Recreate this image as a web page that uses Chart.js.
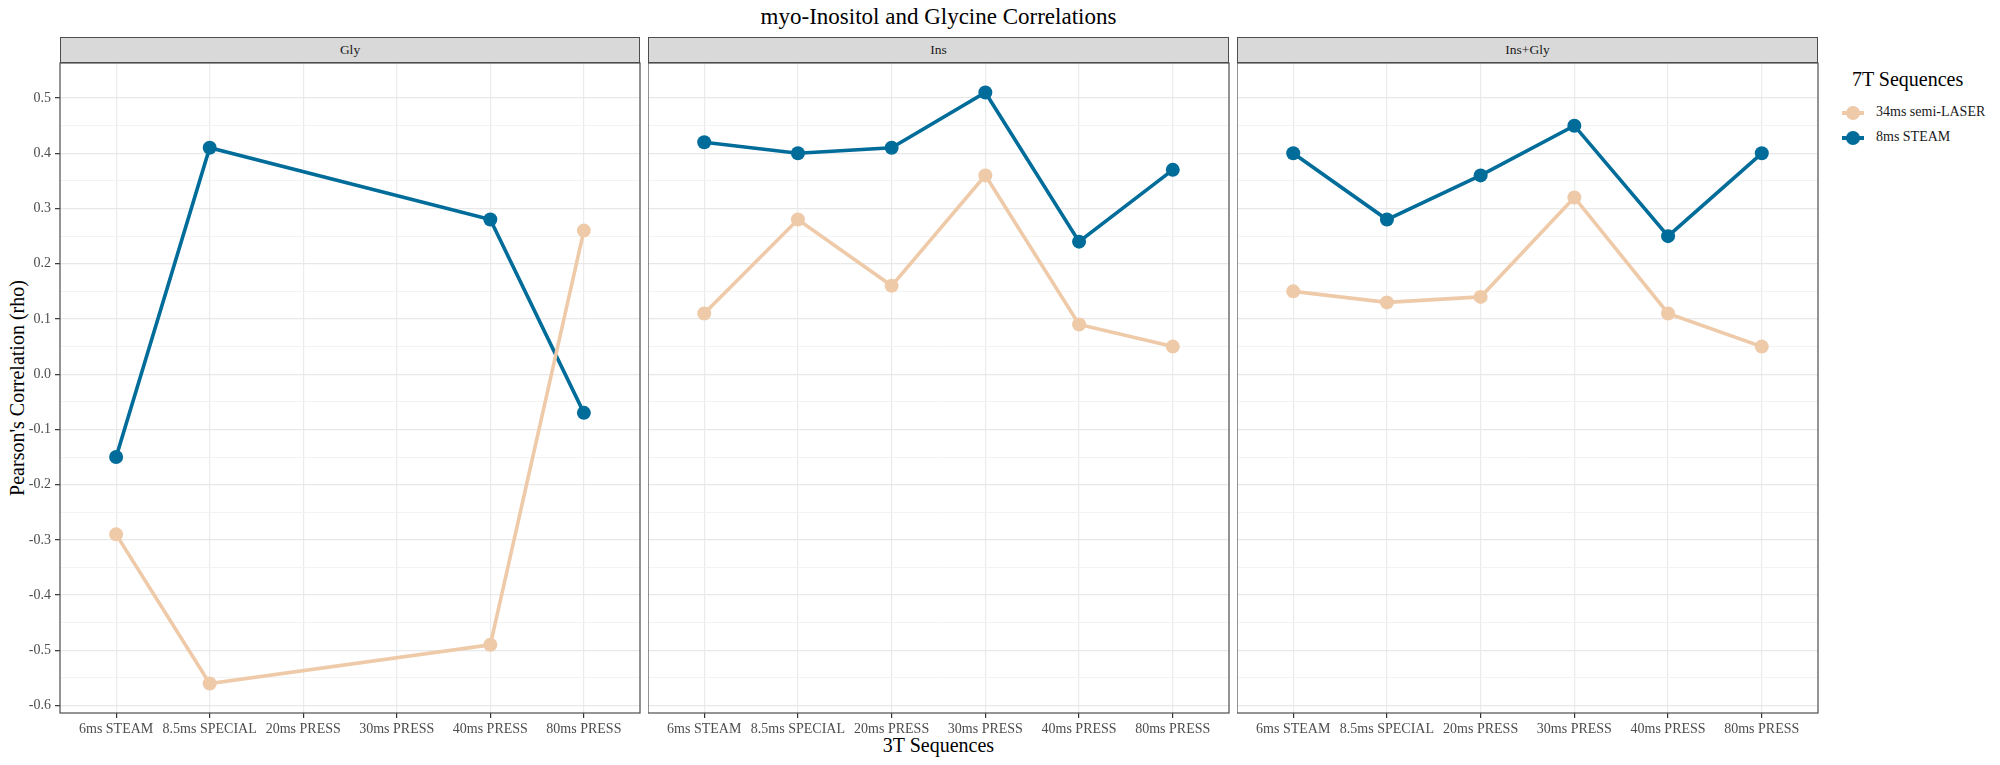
<!DOCTYPE html>
<html>
<head>
<meta charset="utf-8">
<script src="https://cdn.jsdelivr.net/npm/chart.js@4"></script>
<style>
  body { margin: 0; width: 2000px; height: 765px; background: #fff; position: relative; overflow: hidden;
         font-family: "Liberation Serif", "DejaVu Serif", serif; }
  .abs { position: absolute; }
  .strip { position: absolute; top: 37px; height: 26px; background: #d9d9d9; border: 1.2px solid #4d4d4d;
           box-sizing: border-box; text-align: center; font-size: 13.5px; line-height: 24px; color: #1a1a1a; }
  .panel { position: absolute; top: 62px; height: 677px; }
  #title { top: 4px; left: 0; width: 1877px; text-align: center; font-size: 23px; color: #000; }
  #xtitle { top: 734px; left: 0; width: 1877px; text-align: center; font-size: 20px; color: #000; }
  #ytitle { left: 17px; top: 388px; transform: translate(-50%, -50%) rotate(-90deg); font-size: 20px; white-space: nowrap; }
  #legend { left: 1840px; top: 68px; white-space: nowrap; }
  #legend .lt { font-size: 20px; margin-left: 12px; margin-bottom: 10px; }
  #legend .row { position: relative; height: 25px; width: 150px; font-size: 14px; color: #1a1a1a; }
  #legend .row .ln { position: absolute; left: 2px; top: 10px; width: 22px; height: 4px; }
  #legend .row .pt { position: absolute; left: 6px; top: 5px; width: 14px; height: 14px; border-radius: 50%; }
  #legend .row .tx { position: absolute; left: 36px; top: 3px; }
</style>
</head>
<body>
<div id="title" class="abs">myo-Inositol and Glycine Correlations</div>
<div id="xtitle" class="abs">3T Sequences</div>
<div id="ytitle" class="abs">Pearson's Correlation (rho)</div>

<div class="strip" style="left:60px;width:580px;">Gly</div>
<div class="strip" style="left:648px;width:581px;">Ins</div>
<div class="strip" style="left:1237px;width:581px;">Ins+Gly</div>

<div class="panel" style="left:0px;width:641px;"><canvas id="c0"></canvas></div>
<div class="panel" style="left:648px;width:582px;"><canvas id="c1"></canvas></div>
<div class="panel" style="left:1237px;width:582px;"><canvas id="c2"></canvas></div>

<div id="legend" class="abs"></div>

<script>
// 3T sequences (x categories)
const categories = ['6ms STEAM', '8.5ms SPECIAL', '20ms PRESS', '30ms PRESS', '40ms PRESS', '80ms PRESS'];
const panels = ['Gly', 'Ins', 'Ins+Gly'];

// 7T sequences (series)
const seriesNames = ['34ms semi-LASER', '8ms STEAM'];
const seriesColors = ['#eecaa9', '#006c9a'];

// rho values per panel
const glyLaser = [-0.29, -0.56, null, null, -0.49, 0.26];
const glySteam = [-0.15, 0.41, null, null, 0.28, -0.07];
const insLaser = [0.11, 0.28, 0.16, 0.36, 0.09, 0.05];
const insSteam = [0.42, 0.40, 0.41, 0.51, 0.24, 0.37];
const bothLaser = [0.15, 0.13, 0.14, 0.32, 0.11, 0.05];
const bothSteam = [0.40, 0.28, 0.36, 0.45, 0.25, 0.40];

const yTickLabels = ['-0.6', '-0.5', '-0.4', '-0.3', '-0.2', '-0.1', '0.0', '0.1', '0.2', '0.3', '0.4', '0.5'];
const yMin = -0.6135, yMax = 0.5635;

const panelData = [[glyLaser, glySteam], [insLaser, insSteam], [bothLaser, bothSteam]];

// legend
const legendEl = document.getElementById('legend');
legendEl.innerHTML = '<div class="lt">7T Sequences</div>' + seriesNames.map((n, i) =>
  `<div class="row"><div class="ln" style="background:${seriesColors[i]}"></div>` +
  `<div class="pt" style="background:${seriesColors[i]}"></div><div class="tx">${n}</div></div>`).join('');

// panel border
const borderPlugin = {
  id: 'panelBorder',
  afterDraw(chart) {
    const a = chart.chartArea, ctx = chart.ctx;
    ctx.save();
    ctx.strokeStyle = '#4d4d4d';
    ctx.lineWidth = 1.2;
    ctx.strokeRect(a.left, a.top, a.right - a.left, a.bottom - a.top);
    ctx.restore();
  }
};

const noPad = sc => { sc.paddingLeft = 0; sc.paddingRight = 0; sc.paddingTop = 0; sc.paddingBottom = 0; };
const isMajor = v => Math.abs(Math.round(v * 20)) % 2 === 0;
const majorLabel = v => yTickLabels.find(t => Math.abs(parseFloat(t) - v) < 1e-6);

function makePanel(idx) {
  const first = idx === 0;
  const datasets = panelData[idx].map((vals, s) => ({
    label: seriesNames[s],
    data: vals.map((v, i) => ({ x: i + 1, y: v })),
    borderColor: seriesColors[s],
    backgroundColor: seriesColors[s],
    borderWidth: 3.6,
    pointRadius: 7,
    pointHoverRadius: 7,
    pointBorderWidth: 0,
    spanGaps: true,
    tension: 0
  }));

  new Chart(document.getElementById('c' + idx), {
    type: 'line',
    data: { datasets },
    options: {
      responsive: true,
      maintainAspectRatio: false,
      animation: false,
      layout: { autoPadding: false, padding: { left: 0, right: 1, top: 1, bottom: 0 } },
      plugins: { legend: { display: false }, tooltip: { enabled: false } },
      scales: {
        x: {
          type: 'linear',
          min: 0.4, max: 6.6,
          afterBuildTicks: sc => { sc.ticks = categories.map((c, i) => ({ value: i + 1 })); },
          afterFit: sc => { sc.height = 26; noPad(sc); },
          border: { display: false },
          grid: { color: '#ebebeb', lineWidth: 1.2, tickColor: '#333', tickLength: 5, tickWidth: 1.2 },
          ticks: {
            callback: v => categories[Math.round(v) - 1],
            color: '#4d4d4d', padding: 3, maxRotation: 0, autoSkip: false,
            font: { family: '"Liberation Serif", serif', size: 14 }
          }
        },
        y: {
          type: 'linear',
          min: yMin, max: yMax,
          afterBuildTicks: sc => {
            const t = [];
            yTickLabels.forEach((l, i) => {
              const v = parseFloat(l);
              t.push({ value: v });
              if (i < yTickLabels.length - 1) t.push({ value: v + 0.05 });
            });
            sc.ticks = t;
          },
          afterFit: sc => { sc.width = first ? 60 : 0; noPad(sc); },
          border: { display: false },
          grid: {
            color: c => isMajor(c.tick.value) ? '#e8e8e8' : '#f3f3f3',
            lineWidth: c => isMajor(c.tick.value) ? 1.3 : 1,
            drawTicks: first,
            tickLength: 5,
            tickWidth: 1.2,
            tickColor: c => isMajor(c.tick.value) ? '#333' : 'rgba(0,0,0,0)'
          },
          ticks: {
            display: first,
            callback: v => isMajor(v) ? (majorLabel(v) || '') : '',
            color: '#4d4d4d', padding: 4,
            font: { family: '"Liberation Serif", serif', size: 14 }
          }
        }
      }
    },
    plugins: [borderPlugin]
  });
}

panels.forEach((p, i) => makePanel(i));
</script>
</body>
</html>
